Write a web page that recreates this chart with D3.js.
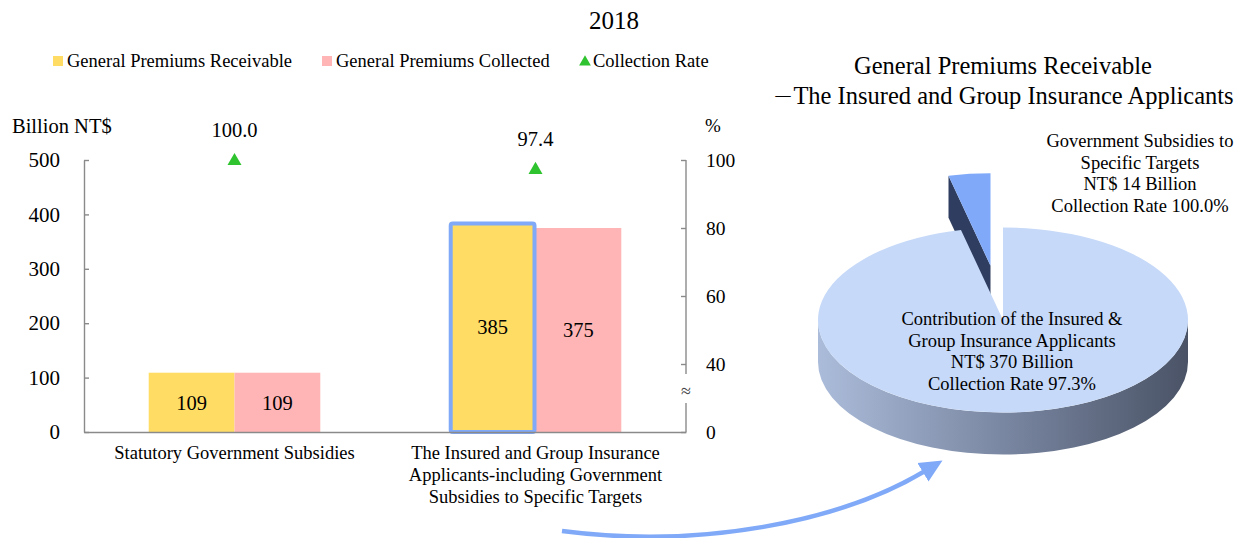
<!DOCTYPE html>
<html><head><meta charset="utf-8">
<script src="https://cdn.jsdelivr.net/npm/d3@7"></script>
<style>
body{margin:0;background:#fff}
svg{display:block}
text{font-family:"Liberation Serif","Times New Roman",serif;fill:#000}
</style>
</head><body>
<svg id="c" width="1254" height="538"></svg>
<script>
// ---------- data ----------
const chartTitle = "2018";
const categories = [
  "Statutory Government Subsidies",
  "The Insured and Group Insurance Applicants-including Government Subsidies to Specific Targets"
];
const categoryLines = [
  ["Statutory Government Subsidies"],
  ["The Insured and Group Insurance", "Applicants-including Government", "Subsidies to Specific Targets"]
];
const seriesNames = ["General Premiums Receivable", "General Premiums Collected"];
const premiumsReceivable = [109, 385];
const premiumsCollected = [109, 375];
const collectionRateName = "Collection Rate";
const collectionRate = [100.0, 97.4];
const leftTicks = [0, 100, 200, 300, 400, 500];
const rightTicks = [0, 40, 60, 80, 100];
const leftAxisTitle = "Billion NT$";
const rightAxisTitle = "%";

const pieTitle = ["General Premiums Receivable", "The Insured and Group Insurance Applicants"];
const pieTitleDash = "\uFF0D";
const pieNames = ["Contribution of the Insured & Group Insurance Applicants", "Government Subsidies to Specific Targets"];
const pieValues = [370, 14];
const pieRates = [97.3, 100.0];
const pieLabelLines = [
  ["Contribution of the Insured &", "Group Insurance Applicants", "NT$ 370 Billion", "Collection Rate 97.3%"],
  ["Government Subsidies to", "Specific Targets", "NT$ 14  Billion", "Collection Rate 100.0%"]
];

// ---------- styles ----------
const SERIF = '"Liberation Serif","Times New Roman",serif';
const colYellow = "#ffdc64", colPink = "#ffb5b5", colGreen = "#2fc42f";
const colAxis = "#8a8a8a", colBlue = "#80aaf8";

const svg = d3.select("#c");

// title
svg.append("text").attr("x", 614).attr("y", 29).attr("text-anchor", "middle")
  .style("font-size", "25px").text(chartTitle);

// legend
const leg = svg.append("g");
const legX = [53, 322, 580];
leg.append("rect").attr("x", legX[0]).attr("y", 56).attr("width", 10).attr("height", 10).attr("fill", colYellow);
leg.append("text").attr("x", legX[0] + 14).attr("y", 67).style("font-size", "18.5px").text(seriesNames[0]);
leg.append("rect").attr("x", legX[1]).attr("y", 56).attr("width", 10).attr("height", 10).attr("fill", colPink);
leg.append("text").attr("x", legX[1] + 14).attr("y", 67).style("font-size", "18.5px").text(seriesNames[1]);
leg.append("path").attr("d", d3.symbol(d3.symbolTriangle).size(60)())
  .attr("transform", `translate(${legX[2] + 5},${62})`).attr("fill", colGreen);
leg.append("text").attr("x", legX[2] + 13).attr("y", 67).style("font-size", "18.5px").text(collectionRateName);

// scales
const x0 = d3.scaleBand().domain(categories).range([84, 686]).paddingInner(0.43).paddingOuter(0.215);
const x1 = d3.scaleBand().domain(seriesNames).range([0, x0.bandwidth()]);
const yL = d3.scaleLinear().domain([0, 500]).range([432, 160]);
const yR = d3.scaleLinear().domain([0, 40, 100]).range([432, 364, 160]);

// bars
const seriesData = [premiumsReceivable, premiumsCollected];
const seriesCols = [colYellow, colPink];
const barG = svg.append("g");
categories.forEach((c, i) => {
  seriesNames.forEach((s, j) => {
    const v = seriesData[j][i];
    const bx = x0(c) + x1(s), by = yL(v), bw = x1.bandwidth(), bh = yL(0) - yL(v);
    barG.append("rect").attr("x", bx).attr("y", by).attr("width", bw).attr("height", bh).attr("fill", seriesCols[j]);
    barG.append("text").attr("x", bx + bw / 2).attr("y", by + bh / 2).attr("dy", "0.35em")
      .attr("text-anchor", "middle").style("font-size", "20.5px").text(v);
  });
});
// highlight border on the insured receivable bar
{
  const c = categories[1], s = seriesNames[0], v = premiumsReceivable[1];
  svg.append("rect").attr("x", x0(c) + x1(s) + 1).attr("y", yL(v) + 1)
    .attr("width", x1.bandwidth() - 2).attr("height", yL(0) - yL(v) - 1)
    .attr("rx", 2).attr("fill", "none").attr("stroke", colBlue).attr("stroke-width", 4);
}

// axes
const axL = svg.append("g").attr("transform", "translate(84,0)")
  .call(d3.axisLeft(yL).tickValues(leftTicks).tickSizeInner(-5).tickSizeOuter(0).tickPadding(24));
axL.selectAll("path,line").attr("stroke", colAxis).attr("stroke-width", 1.4);
axL.selectAll("text").style("font-size", "21px");

const axB = svg.append("g").attr("transform", `translate(0,${yL(0)})`)
  .call(d3.axisBottom(x0).tickValues([]).tickSizeOuter(0));
axB.selectAll("path").attr("stroke", colAxis).attr("stroke-width", 1.6);

const axR = svg.append("g").attr("transform", "translate(686,0)")
  .call(d3.axisRight(yR).tickValues(rightTicks).tickSizeInner(-5).tickSizeOuter(0).tickPadding(20));
axR.select(".domain").remove();
axR.selectAll("line").attr("stroke", colAxis).attr("stroke-width", 1.4);
axR.selectAll("text").style("font-size", "19.5px");
axR.append("line").attr("x1", 0).attr("x2", 0).attr("y1", yR(100)).attr("y2", yR(40) + 10)
  .attr("stroke", colAxis).attr("stroke-width", 1.4);
axR.append("line").attr("x1", 0).attr("x2", 0).attr("y1", yR(0) - 29).attr("y2", yR(0))
  .attr("stroke", colAxis).attr("stroke-width", 1.4);
axR.append("text").attr("x", 0).attr("y", 391).attr("dy", "0.35em")
  .attr("text-anchor", "middle").style("font-size", "18px").style("fill", "#444").text("\u2248");

svg.append("text").attr("x", 12).attr("y", 133).style("font-size", "20.5px").text(leftAxisTitle);
svg.append("text").attr("x", 705).attr("y", 132).style("font-size", "19px").text(rightAxisTitle);

// category labels
categories.forEach((c, i) => {
  const t = svg.append("text").attr("x", x0(c) + x0.bandwidth() / 2).attr("y", 459)
    .attr("text-anchor", "middle").style("font-size", "18.5px");
  categoryLines[i].forEach((ln, k) => {
    t.append("tspan").attr("x", x0(c) + x0.bandwidth() / 2).attr("dy", k === 0 ? 0 : 22).text(ln);
  });
});

// collection rate markers
categories.forEach((c, i) => {
  const cx = x0(c) + x0.bandwidth() / 2, cy = yR(collectionRate[i]);
  svg.append("path").attr("d", d3.symbol(d3.symbolTriangle).size(85)())
    .attr("transform", `translate(${cx},${cy + 1})`).attr("fill", colGreen);
  svg.append("text").attr("x", cx).attr("y", cy - 23).attr("text-anchor", "middle")
    .style("font-size", "20.5px").text(d3.format(".1f")(collectionRate[i]));
});

// ---------- pie ----------
svg.append("text").attr("x", 1003).attr("y", 74).attr("text-anchor", "middle")
  .style("font-size", "24.5px").text(pieTitle[0]);
{
  const t = svg.append("text").attr("x", 1003).attr("y", 104).attr("text-anchor", "middle")
    .style("font-size", "24.5px");
  t.append("tspan").attr("class", "dash").style("font-family", '"Noto Sans CJK SC",sans-serif')
    .style("font-size", "21px").style("font-weight", "300").text(pieTitleDash);
  t.append("tspan").text(pieTitle[1]);
}

const PC = {cx: 1003, cy: 320, rx: 185, ry: 92.5, depth: 42};
const arcs = d3.pie().sort(null).startAngle(0).endAngle(2 * Math.PI)(pieValues);
const pt = (a, ox, oy, dz) => [ox + PC.rx * Math.sin(a), oy - PC.ry * Math.cos(a) + (dz || 0)];

const defs = svg.append("defs");
const grad = defs.append("linearGradient").attr("id", "side").attr("x1", "0").attr("x2", "1").attr("y1", "0").attr("y2", "0");
grad.append("stop").attr("offset", "0").attr("stop-color", "#abbcda");
grad.append("stop").attr("offset", "0.5").attr("stop-color", "#7a87a2");
grad.append("stop").attr("offset", "1").attr("stop-color", "#4a5366");

function topPath(a0, a1, ox, oy) {
  const p = d3.path();
  p.moveTo(ox, oy);
  const s = pt(a0, ox, oy), e = pt(a1, ox, oy);
  p.lineTo(s[0], s[1]);
  const large = (a1 - a0) > Math.PI ? 1 : 0;
  return p.toString() + `A${PC.rx},${PC.ry} 0 ${large} 1 ${e[0]},${e[1]}Z`;
}

// small exploded slice (behind)
{
  const a = arcs[1];
  const m = (a.startAngle + a.endAngle) / 2, k = 0.59;
  const ox = PC.cx + PC.rx * k * Math.sin(m), oy = PC.cy - PC.ry * k * Math.cos(m);
  const s = pt(a.startAngle, ox, oy);
  svg.append("path").attr("d", `M${ox},${oy}L${s[0]},${s[1]}L${s[0]},${s[1] + PC.depth}L${ox},${oy + PC.depth}Z`)
    .attr("fill", "#2f3e60");
  svg.append("path").attr("d", topPath(a.startAngle, a.endAngle, ox, oy)).attr("fill", "#80aaf9");
}
// big slice side + top
{
  const a = arcs[0];
  const r = pt(Math.PI / 2, PC.cx, PC.cy), l = pt(3 * Math.PI / 2, PC.cx, PC.cy);
  svg.append("path").attr("d",
    `M${r[0]},${r[1]}A${PC.rx},${PC.ry} 0 0 1 ${l[0]},${l[1]}L${l[0]},${l[1] + PC.depth}` +
    `A${PC.rx},${PC.ry} 0 0 0 ${r[0]},${r[1] + PC.depth}Z`).attr("fill", "url(#side)");
  svg.append("path").attr("d", topPath(a.startAngle, a.endAngle, PC.cx, PC.cy)).attr("fill", "#c6d9f8");
}
// pie labels
{
  const t = svg.append("text").attr("x", 1012).attr("y", 325).attr("text-anchor", "middle").style("font-size", "18.5px");
  pieLabelLines[0].forEach((ln, k) => t.append("tspan").attr("x", 1012).attr("dy", k ? 21.5 : 0).text(ln));
  const t2 = svg.append("text").attr("x", 1140).attr("y", 147).attr("text-anchor", "middle").style("font-size", "18.5px");
  pieLabelLines[1].forEach((ln, k) => t2.append("tspan").attr("x", 1140).attr("dy", k ? 21.5 : 0).text(ln));
}

// arrow
defs.append("marker").attr("id", "ah").attr("markerUnits", "userSpaceOnUse")
  .attr("markerWidth", 24).attr("markerHeight", 24).attr("viewBox", "0 -10 20 20")
  .attr("refX", 2).attr("refY", 0).attr("orient", "auto")
  .append("path").attr("d", "M0,-9L19,0L0,9Z").attr("fill", colBlue);
{
  const p = d3.path();
  p.moveTo(562, 531);
  p.bezierCurveTo(700, 549, 840, 522, 925, 471);
  svg.append("path").attr("d", p.toString()).attr("fill", "none").attr("stroke", colBlue)
    .attr("stroke-width", 4.5).attr("marker-end", "url(#ah)");
}

// enforce serif font on all text (axis groups set sans-serif attributes)
svg.selectAll("g").attr("font-family", null);
svg.selectAll("text").style("font-family", SERIF);
svg.selectAll("tspan.dash").style("font-family", '"Noto Sans CJK SC",sans-serif');
</script>
</body></html>
